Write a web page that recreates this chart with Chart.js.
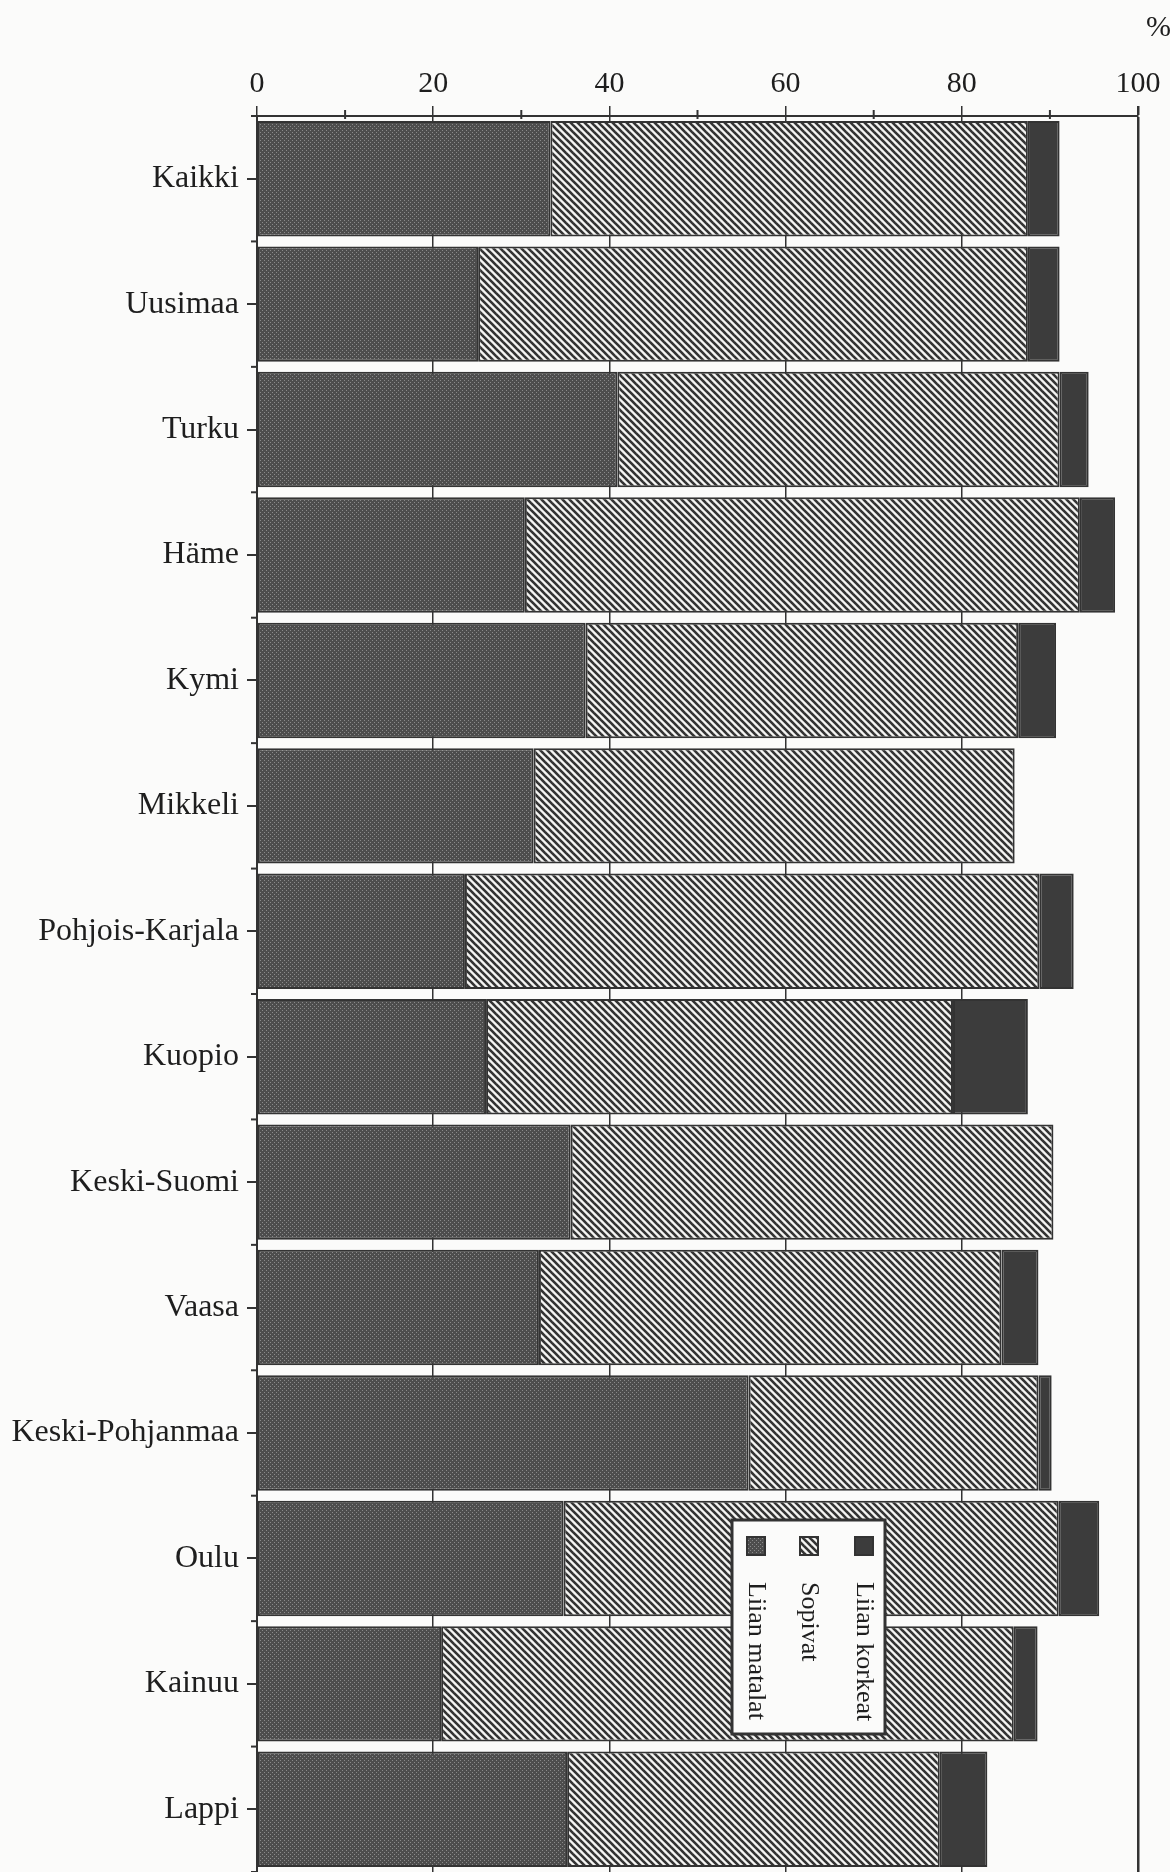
<!DOCTYPE html>
<html>
<head>
<meta charset="utf-8">
<script src="https://cdn.jsdelivr.net/npm/chart.js@4.4.0/dist/chart.umd.min.js"></script>
<style>
body{margin:0;background:#fbfbfa;}
canvas{display:block;}
</style>
</head>
<body>
<canvas id="myChart" width="1170" height="1872"></canvas>
<script>
let regions=["Kaikki","Uusimaa","Turku","Häme","Kymi","Mikkeli","Pohjois-Karjala","Kuopio","Keski-Suomi","Vaasa","Keski-Pohjanmaa","Oulu","Kainuu","Lappi"];
// shares in %
let liianMatalat=[33.3,25.1,40.9,30.4,37.3,31.4,23.6,26.0,35.6,32.0,55.8,34.8,20.9,35.2];
let sopivat=[54.2,62.4,50.2,63.0,49.1,54.6,65.2,53.0,54.8,52.5,32.9,56.2,65.0,42.3];
let liianKorkeat=[3.6,3.6,3.3,4.0,4.3,0,3.9,8.5,0,4.2,1.5,4.6,2.7,5.4];
let seriesNames=["Liian matalat","Sopivat","Liian korkeat"];
let serif="'Liberation Serif', 'Times New Roman', serif";

const ctx=document.getElementById('myChart').getContext('2d');

let makePattern=(size,draw)=>{
    let c=document.createElement('canvas');
    c.width=size;c.height=size;
    let g=c.getContext('2d');
    draw(g,size);
    return ctx.createPattern(c,'repeat');
}
let dotFill=makePattern(4,(g,s)=>{
    g.fillStyle='#4d4d4d';g.fillRect(0,0,s,s);
    g.fillStyle='#8a8a8a';g.fillRect(0,0,1,1);g.fillRect(2,2,1,1);
});
let hatchFill=makePattern(7,(g,s)=>{
    g.fillStyle='#f4f4f2';g.fillRect(0,0,s,s);
    g.strokeStyle='#333';g.lineWidth=2.6;
    for(let k=-1;k<=1;k++){
        g.beginPath();g.moveTo(k*s-1,-1);g.lineTo(k*s+s+1,s+1);g.stroke();
    }
});
let solidFill='#3c3c3c';
let fills=[dotFill,hatchFill,solidFill];

// minor ticks on the top axis, boundary ticks on the left axis, "%" and the rotated legend
let extras={
    id:'extras',
    afterDraw(chart){
        let c=chart.ctx, area=chart.chartArea, x=chart.scales.x, y=chart.scales.y;
        c.save();
        c.strokeStyle='#333';c.lineWidth=2;
        for(let v=10;v<100;v+=20){
            let px=x.getPixelForValue(v);
            c.beginPath();c.moveTo(px,area.top-6);c.lineTo(px,area.top+3);c.stroke();
        }
        for(let i=0;i<=regions.length;i++){
            let py=y.getPixelForValue(i-0.5);
            c.beginPath();c.moveTo(area.left-6,py);c.lineTo(area.left,py);c.stroke();
        }
        c.fillStyle='#1e1e1e';
        c.font='30px '+serif;
        c.textAlign='left';c.textBaseline='middle';
        c.fillText('%',area.right+8,28);

        // legend box
        let bx=732,by=1520,bw=153,bh=214;
        c.fillStyle='#fbfbfa';
        c.fillRect(bx,by,bw,bh);
        c.lineWidth=3;c.strokeStyle='#333';
        c.strokeRect(bx,by,bw,bh);
        let order=[2,1,0];
        let cols=[864,809,756];
        order.forEach((si,j)=>{
            let cx=cols[j];
            c.fillStyle=fills[si];
            c.fillRect(cx-9,1537,18,18);
            c.lineWidth=2;c.strokeStyle='#333';
            c.strokeRect(cx-9,1537,18,18);
            c.save();
            c.translate(cx,1582);
            c.rotate(Math.PI/2);
            c.fillStyle='#1e1e1e';
            c.font='26px '+serif;
            c.textAlign='left';c.textBaseline='middle';
            c.fillText(seriesNames[si],0,0);
            c.restore();
        });
        c.restore();
    }
};

const myChart=new Chart(ctx,{
    type:'bar',
    data:{
        labels:regions,
        datasets:[liianMatalat,sopivat,liianKorkeat].map((vals,i)=>({
            label:seriesNames[i],
            data:vals,
            backgroundColor:fills[i],
            borderColor:'#333',
            borderWidth:2,
            borderSkipped:false,
            barPercentage:0.92,
            categoryPercentage:1
        }))
    },
    options:{
        indexAxis:'y',
        responsive:false,
        animation:false,
        devicePixelRatio:1,
        layout:{padding:{left:0,right:32,top:0,bottom:0}},
        plugins:{legend:{display:false},tooltip:{enabled:false}},
        scales:{
            x:{
                position:'top',
                stacked:true,
                min:0,max:100,
                ticks:{stepSize:20,color:'#1e1e1e',font:{family:serif,size:30},padding:4},
                grid:{
                    color:'#333',
                    lineWidth:(c)=>c.tick&&c.tick.value===100?2.5:1.5,
                    tickLength:10
                },
                border:{display:true,color:'#333',width:2},
                afterFit:(s)=>{s.height=116;}
            },
            y:{
                stacked:true,
                offset:true,
                ticks:{color:'#1e1e1e',font:{family:serif,size:32},padding:8},
                grid:{drawOnChartArea:false,offset:false,color:'#333',lineWidth:2,tickLength:10},
                border:{display:true,color:'#333',width:2},
                afterFit:(s)=>{s.width=257;s.paddingTop=0;s.paddingBottom=0;}
            }
        }
    },
    plugins:[extras]
});
</script>
</body>
</html>
